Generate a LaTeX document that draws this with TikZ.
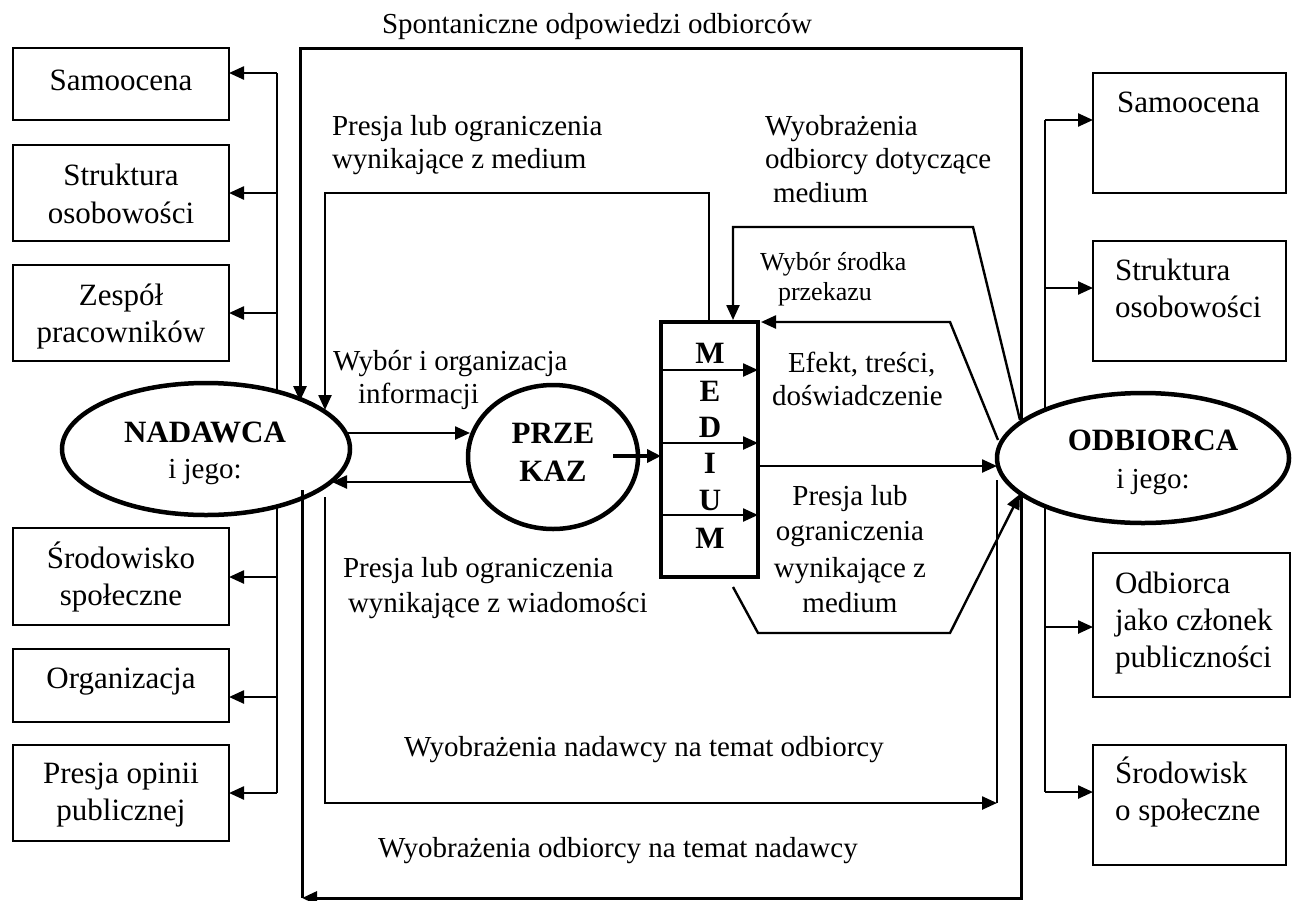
\documentclass[tikz,border=0pt]{standalone}
\usepackage{fontspec}
\setmainfont{Liberation Serif}
\usetikzlibrary{arrows.meta,shapes.geometric}
\tikzset{
  every node/.style={inner sep=0pt, outer sep=0pt},
  lbl/.style={font=\fontsize{29}{33}\selectfont},
  boxtxt/.style={font=\fontsize{31}{37}\selectfont, anchor=base},
  rboxtxt/.style={font=\fontsize{31}{37}\selectfont, anchor=base west},
  small/.style={font=\fontsize{26}{30}\selectfont, anchor=base west},
  bigb/.style={font=\fontsize{31}{36}\selectfont\bfseries, anchor=base},
  medl/.style={font=\fontsize{31}{36}\selectfont\bfseries, anchor=base},
  box/.style={draw, line width=2.4pt},
  oval/.style={draw, ellipse, line width=4.5pt},
  medbox/.style={draw, line width=4pt},
  ln/.style={line width=2.4pt},
  frm/.style={line width=3pt},
  arr/.style={line width=2.4pt, -{Triangle[length=15pt,width=13pt]}},
  farr/.style={line width=3pt, -{Triangle[length=15pt,width=13pt]}},
  tarr/.style={line width=4.5pt, -{Triangle[length=14pt,width=13pt]}},
}
\begin{document}
\begin{tikzpicture}[x=1pt,y=-1pt]
\useasboundingbox (0,0) rectangle (1292,900);

% ---- main shapes
\node[oval, minimum width=288pt, minimum height=132pt] (nad) at (206,449) {};
\node[oval, minimum width=170pt, minimum height=144pt] (prz) at (553,457) {};
\node[oval, minimum width=292pt, minimum height=130pt] (odb) at (1143,458) {};
\node[medbox, minimum width=97pt, minimum height=255pt] (med) at (709.5,449.5) {};

\node[bigb] (tnad) at (205,442) {NADAWCA};
\node[lbl, anchor=base] (tnad2) at (205,478) {i jego:};
\node[bigb] (todb) at (1153,450) {ODBIORCA};
\node[lbl, anchor=base] (todb2) at (1153,488) {i jego:};
\node[bigb] (tprz1) at (553,443) {PRZE};
\node[bigb] (tprz2) at (553,481) {KAZ};

\node[medl] (m1) at (710,363) {M};
\node[medl] (m2) at (710,401) {E};
\node[medl] (m3) at (710,437) {D};
\node[medl] (m4) at (710,473) {I};
\node[medl] (m5) at (710,510) {U};
\node[medl] (m6) at (710,548) {M};

% ---- left boxes
\node[box, minimum width=216pt, minimum height=72pt] (L1) at (121,84) {};
\node[box, minimum width=216pt, minimum height=96pt] (L2) at (121,193) {};
\node[box, minimum width=216pt, minimum height=96pt] (L3) at (121,313) {};
\node[box, minimum width=216pt, minimum height=97pt] (L4) at (121,576.5) {};
\node[box, minimum width=216pt, minimum height=73pt] (L5) at (121,685.5) {};
\node[box, minimum width=216pt, minimum height=96pt] (L6) at (121,793) {};
\node[boxtxt] (tL1) at (121,90) {Samoocena};
\node[boxtxt] (tL2a) at (121,185) {Struktura};
\node[boxtxt] (tL2b) at (121,223) {osobowości};
\node[boxtxt] (tL3a) at (121,305) {Zespół};
\node[boxtxt] (tL3b) at (121,342) {pracowników};
\node[boxtxt] (tL4a) at (121,568) {Środowisko};
\node[boxtxt] (tL4b) at (121,605) {społeczne};
\node[boxtxt] (tL5) at (121,688) {Organizacja};
\node[boxtxt] (tL6a) at (121,783) {Presja opinii};
\node[boxtxt] (tL6b) at (121,820) {publicznej};

% ---- right boxes
\node[box, minimum width=193pt, minimum height=120pt] (R1) at (1189.5,133) {};
\node[box, minimum width=193pt, minimum height=120pt] (R2) at (1189.5,301) {};
\node[box, minimum width=197pt, minimum height=144pt] (R3) at (1191.5,625) {};
\node[box, minimum width=193pt, minimum height=120pt] (R4) at (1189.5,805) {};
\node[rboxtxt] (tR1) at (1117,112) {Samoocena};
\node[rboxtxt] (tR2a) at (1115,280) {Struktura};
\node[rboxtxt] (tR2b) at (1115,317) {osobowości};
\node[rboxtxt] (tR3a) at (1115,593) {Odbiorca};
\node[rboxtxt] (tR3b) at (1115,630) {jako członek};
\node[rboxtxt] (tR3c) at (1115,667) {publiczności};
\node[rboxtxt] (tR4a) at (1115,783) {Środowisk};
\node[rboxtxt] (tR4b) at (1115,820) {o społeczne};

% ---- labels
\node[lbl, anchor=base west] (sp) at (382,33) {Spontaniczne odpowiedzi odbiorców};
\node[lbl, anchor=base west] (pm1) at (332,135) {Presja lub ograniczenia};
\node[lbl, anchor=base west] (pm2) at (332,168) {wynikające z medium};
\node[lbl, anchor=base west] (wo1) at (765,135) {Wyobrażenia};
\node[lbl, anchor=base west] (wo2) at (765,168) {odbiorcy dotyczące};
\node[lbl, anchor=base west] (wo3) at (773,202) {medium};
\node[small] (ws1) at (760,270) {Wybór środka};
\node[small] (ws2) at (778,300) {przekazu};
\node[lbl, anchor=base west] (ef1) at (788,372) {Efekt, treści,};
\node[lbl, anchor=base west] (ef2) at (772,405) {doświadczenie};
\node[lbl, anchor=base west] (wi1) at (333,370) {Wybór i organizacja};
\node[lbl, anchor=base west] (wi2) at (358,403) {informacji};
\node[lbl, anchor=base west] (pw1) at (343,577) {Presja lub ograniczenia};
\node[lbl, anchor=base west] (pw2) at (348,612) {wynikające z wiadomości};
\node[lbl, anchor=base] (pr1) at (850,505) {Presja lub};
\node[lbl, anchor=base] (pr2) at (850,540) {ograniczenia};
\node[lbl, anchor=base] (pr3) at (850,577) {wynikające z};
\node[lbl, anchor=base] (pr4) at (850,612) {medium};
\node[lbl, anchor=base west] (wn) at (404,756) {Wyobrażenia nadawcy na temat odbiorcy};
\node[lbl, anchor=base west] (wod) at (378,857) {Wyobrażenia odbiorcy na temat nadawcy};

% ---- left bus
\coordinate (lbt) at (277,392);
\coordinate (lbb) at (277,506);
\coordinate (bl1) at (277,73);
\coordinate (bl2) at (277,193);
\coordinate (bl3) at (277,313);
\coordinate (bl4) at (277,577);
\coordinate (bl5) at (277,697);
\coordinate (bl6) at (277,793);
\draw[ln] (lbt) -- (bl1);
\draw[ln] (lbb) -- (bl6);
\foreach \i in {1,...,6} {\draw[arr] (bl\i) -- (L\i.east |- bl\i);}

% ---- right bus
\coordinate (rbt) at (1045,410);
\coordinate (rbb) at (1045,506);
\coordinate (br1) at (1045,120);
\coordinate (br2) at (1045,288);
\coordinate (br3) at (1045,627);
\coordinate (br4) at (1045,792);
\draw[ln] (rbt) -- (br1);
\draw[ln] (rbb) -- (br4);
\foreach \i in {1,...,4} {\draw[arr] (br\i) -- (R\i.west |- br\i);}

% ---- outer frame (spontaneous responses)
\coordinate (oA) at (1021,421);
\coordinate (oB) at (300,401);
\draw[farr] (oA) -- (1021,48) -- (300,48) -- (oB);

% ---- inner top frame (pressure from medium)
\coordinate (iA) at (709,322);
\coordinate (iB) at (325,410);
\draw[arr] (iA) -- (709,193) -- (325,193) -- (iB);

% ---- nadawca <-> przekaz
\coordinate (np1) at (348,433);
\coordinate (np2) at (470,433);
\coordinate (pn1) at (471,482);
\coordinate (pn2) at (332,482);
\draw[arr] (np1) -- (np2);
\draw[arr] (pn1) -- (pn2);

% ---- przekaz -> medium
\coordinate (pm) at (613,456);
\draw[tarr] (pm) -- (med.west |- pm);

% ---- arrows inside medium
\foreach \y [count=\k] in {370,443,515} {
  \coordinate (ma\k) at (661,\y);
  \draw[arr] (ma\k) -- (med.east |- ma\k);
}

% ---- medium -> odbiorca
\coordinate (mo) at (758,466);
\draw[arr] (mo) -- (odb.west |- mo);

% ---- odbiorca -> medium (images of medium)
\coordinate (wA) at (1020,420);
\coordinate (wB) at (733,320);
\draw[arr] (wA) -- (973,227) -- (733,227) -- (wB);

% ---- wybor srodka przekazu
\coordinate (sA) at (998,440);
\coordinate (sB) at (761,322);
\draw[arr] (sA) -- (950,322) -- (sB);

% ---- pressure from medium to odbiorca
\coordinate (qA) at (733,587);
\coordinate (qB) at (1020,494);
\draw[arr] (qA) -- (758,633) -- (950,633) -- (qB);

% ---- inner bottom frame (sender's images of receiver)
\coordinate (nA) at (325,497);
\coordinate (nB) at (997,803);
\coordinate (nC) at (997,480);
\draw[arr] (nA) -- (325,803) -- (nB);
\draw[ln] (nB) -- (nC);

% ---- outer bottom frame (receiver's images of sender)
\coordinate (bA) at (1021,496);
\coordinate (bB) at (302,898);
\coordinate (bC) at (302,490);
\draw[farr] (bA) -- (1021,898) -- (bB);
\draw[frm] (bB) -- (bC);
\end{tikzpicture}
\end{document}
